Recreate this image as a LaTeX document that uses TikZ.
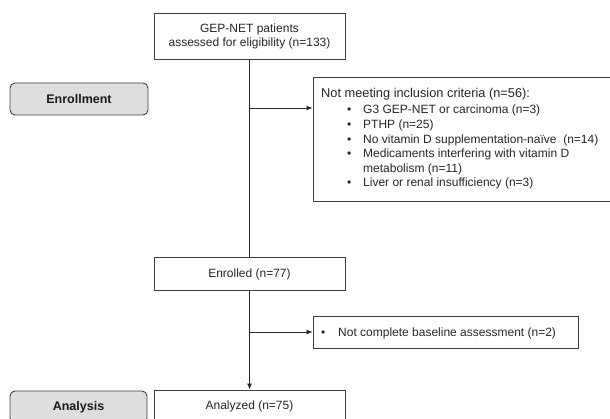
\documentclass[tikz,border=0pt]{standalone}
\usepackage{fontspec}
\setmainfont{Liberation Sans}
\usetikzlibrary{arrows.meta}
\begin{document}
\begin{tikzpicture}[x=1pt,y=-1pt,
  box/.style={draw=black!75, line width=0.9pt, fill=white, inner sep=0pt, text=black!85,
    font=\fontsize{12}{14}\selectfont, align=center},
  stage/.style={draw=black!75, line width=0.9pt, fill=black!13, rounded corners=5pt,
    font=\fontsize{12.5}{14}\selectfont\bfseries, text=black!90},
  conn/.style={draw=black!85, line width=0.9pt},
  arr/.style={conn, -{Latex[length=6pt,width=5pt]}},
  txt/.style={font=\fontsize{12}{14.6}\selectfont, text=black!85, inner sep=0pt}
]
\useasboundingbox (0,0) rectangle (610,419);
\clip (0,0) rectangle (610,419);

\node[box, minimum width=191pt, minimum height=46pt] (top) at (249.5,36) {GEP-NET patients\\assessed for eligibility (n=133)};
\node[stage, minimum width=138pt, minimum height=32pt] (enroll) at (79,99) {Enrollment};
\node[box, minimum width=307pt, minimum height=124pt] (excl) at (466.5,139) {};
\node[txt, anchor=base west, font=\fontsize{12.8}{15}\selectfont] (exclhead) at (321,98) {Not meeting inclusion criteria (n=56):};
\node[txt, anchor=base west] (excllist) at (347,114) {%
  \begin{tabular}[t]{@{}l@{}l@{}}
  \makebox[16pt][l]{•} & G3 GEP-NET or carcinoma (n=3)\\
  \makebox[16pt][l]{•} & PTHP (n=25)\\
  \makebox[16pt][l]{•} & No vitamin D supplementation-naïve\ \ (n=14)\\
  \makebox[16pt][l]{•} & Medicaments interfering with vitamin D\\
   & metabolism (n=11)\\
  \makebox[16pt][l]{•} & Liver or renal insufficiency (n=3)
  \end{tabular}};
\node[box, minimum width=191pt, minimum height=33pt] (enrolled) at (249.5,274) {Enrolled (n=77)};
\node[box, minimum width=265pt, minimum height=32pt] (box2) at (445.5,332) {};
\node[txt, anchor=base west] (box2txt) at (321,337) {\makebox[17pt][l]{•}Not complete baseline assessment (n=2)};
\node[box, minimum width=191pt, minimum height=33pt] (analyzed) at (249.5,406.5) {Analyzed (n=75)};
\node[stage, minimum width=137pt, minimum height=32pt] (analysis) at (78.5,407) {Analysis};

\draw[conn] (top.south) -- (enrolled.north);
\coordinate (b1) at (249.5,108);
\draw[arr] (b1) -- (b1 -| excl.west);
\coordinate (b2) at (249.5,332);
\draw[arr] (b2) -- (b2 -| box2.west);
\draw[arr] (enrolled.south) -- (analyzed.north);
\end{tikzpicture}
\end{document}
